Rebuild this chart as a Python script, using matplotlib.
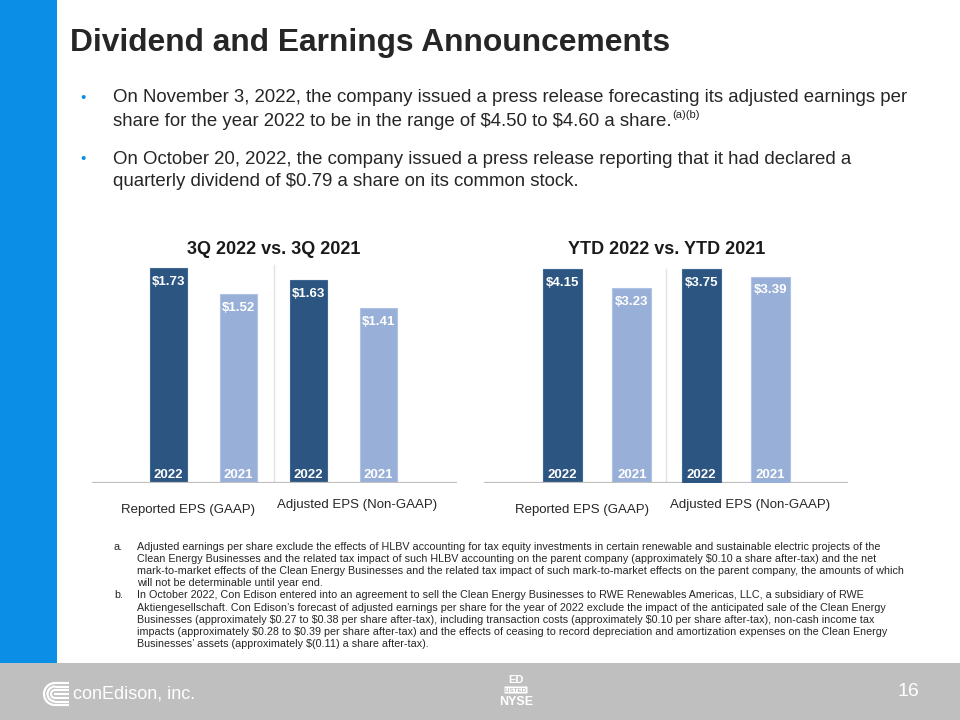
import matplotlib
matplotlib.use("Agg")
import matplotlib.pyplot as plt
from matplotlib.patches import Rectangle, Arc, FancyBboxPatch

plt.rcParams['font.family'] = ['Liberation Sans', 'DejaVu Sans']
plt.rcParams['text.parse_math'] = False

# data
categories = ["Reported EPS (GAAP)", "Adjusted EPS (Non-GAAP)"]
years = ["2022", "2021"]
q3_2022 = [1.73, 1.63]
q3_2021 = [1.52, 1.41]
ytd_2022 = [4.15, 3.75]
ytd_2021 = [3.23, 3.39]

title = "Dividend and Earnings Announcements"
bullets = [
    ["On November 3, 2022, the company issued a press release forecasting its adjusted earnings per",
     "share for the year 2022 to be in the range of $4.50 to $4.60 a share."],
    ["On October 20, 2022, the company issued a press release reporting that it had declared a",
     "quarterly dividend of $0.79 a share on its common stock."],
]
note_a = [
    "Adjusted earnings per share exclude the effects of HLBV accounting for tax equity investments in certain renewable and sustainable electric projects of the",
    "Clean Energy Businesses and the related tax impact of such HLBV accounting on the parent company (approximately $0.10 a share after-tax) and the net",
    "mark-to-market effects of the Clean Energy Businesses and the related tax impact of such mark-to-market effects on the parent company, the amounts of which",
    "will not be determinable until year end.",
]
note_b = [
    "In October 2022, Con Edison entered into an agreement to sell the Clean Energy Businesses to RWE Renewables Americas, LLC, a subsidiary of RWE",
    "Aktiengesellschaft. Con Edison\u2019s forecast of adjusted earnings per share for the year of 2022 exclude the impact of the anticipated sale of the Clean Energy",
    "Businesses (approximately $0.27 to $0.38 per share after-tax), including transaction costs (approximately $0.10 per share after-tax), non-cash income tax",
    "impacts (approximately $0.28 to $0.39 per share after-tax) and the effects of ceasing to record depreciation and amortization expenses on the Clean Energy",
    "Businesses\u2019 assets (approximately $(0.11) a share after-tax).",
]

DARK = "#2C5581"
LIGHT = "#98AFD8"
TEXT = "#262626"
W, H = 960, 720


def fx(x):
    return x / W


def fy(y):
    return 1 - y / H


fig = plt.figure(figsize=(9.6, 7.2), dpi=100)

# background layer in pixel coordinates
bg = fig.add_axes([0, 0, 1, 1], zorder=-5)
bg.set_xlim(0, W)
bg.set_ylim(H, 0)
bg.axis('off')
bg.add_patch(Rectangle((0, 0), 57, 663, color="#0B8FE6", lw=0))
bg.add_patch(Rectangle((0, 663), W, 57, color="#BFBFBF", lw=0))

# title and bullets
fig.text(fx(70), fy(43), title, fontsize=22.9, fontweight='bold', color=TEXT, va='center')
line_y = [[98, 121], [159, 182]]
lines_drawn = []
for b, ys in zip(bullets, line_y):
    fig.text(fx(83), fy(ys[0]), "\u2022", fontsize=11, color="#0B8FE6", ha='center', va='center')
    for line, y in zip(b, ys):
        lines_drawn.append(fig.text(fx(113), fy(y), line, fontsize=13.4, color=TEXT, va='center'))

fig.canvas.draw()
bb = lines_drawn[1].get_window_extent(fig.canvas.get_renderer())
fig.text(bb.x1 / W + 0.001, fy(115), "(a)(b)", fontsize=8, color=TEXT, va='center')


def draw_pair(ax, i, v22, v21, floor, width):
    x = [2 * i, 2 * i + 1]
    vals = [v22, v21]
    bars = ax.bar(x, [v - floor for v in vals], bottom=floor, width=width,
                  color=[DARK, LIGHT], edgecolor=["#3E6894", "#AFC2E3"], linewidth=0.8)
    for bar, v, yr in zip(bars, vals, years):
        cx = bar.get_x() + bar.get_width() / 2
        ax.annotate(f"${v:.2f}", (cx, v), xytext=(0, -10), textcoords='offset points',
                    ha='center', va='center', color='white', fontsize=9.5, fontweight='bold')
        ax.annotate(yr, (cx, floor), xytext=(0, 6), textcoords='offset points',
                    ha='center', va='center', color='white', fontsize=9.5, fontweight='bold')


def style(ax, xlim, ylim):
    ax.set_xlim(*xlim)
    ax.set_ylim(*ylim)
    for s in ax.spines.values():
        s.set_visible(False)
    ax.set_xticks([])
    ax.set_yticks([])
    ax.patch.set_alpha(0)


# chart 1: 3Q, zero based
ax1 = fig.add_axes([fx(92), fy(483), fx(457 - 92), (483 - 250) / H])
style(ax1, (-1.093, 4.121), (0, 1.875))
for i in range(2):
    draw_pair(ax1, i, q3_2022[i], q3_2021[i], 0, 0.53)
ax1.axhline(0, color="#BFBFBF", lw=1.6, zorder=3)
ax1.axvline(1.5, ymin=0, ymax=(483 - 265) / 233, color="#E3E3E3", lw=1)

# chart 2: YTD, each pair on its own scale
floor = -6.4
rect2 = [fx(484), fy(483), fx(848 - 484), (483 - 250) / H]
ax2a = fig.add_axes(rect2)
ax2b = fig.add_axes(rect2)
for k, ax in enumerate([ax2a, ax2b]):
    top = floor + (ytd_2022[k] - floor) * 233 / 214
    style(ax, (-1.131, 4.117), (floor, top))
    draw_pair(ax, k, ytd_2022[k], ytd_2021[k], floor, 0.56)
ax2a.axhline(floor, color="#BFBFBF", lw=1.6, zorder=3)
ax2a.axvline(1.5, ymin=0, ymax=(483 - 269) / 233, color="#E3E3E3", lw=1)

# chart titles and category labels
fig.text(fx(274), fy(249), "3Q 2022 vs. 3Q 2021", fontsize=13, fontweight='bold',
         color="#1A1A1A", ha='center', va='center')
fig.text(fx(667), fy(249), "YTD 2022 vs. YTD 2021", fontsize=13, fontweight='bold',
         color="#1A1A1A", ha='center', va='center')
for ax, xs in [(ax1, [0.28, 2.69]), (ax2a, [0.28, 2.71])]:
    for cat, xc, yp in zip(categories, xs, [510, 505]):
        ax.text(xc, -(yp - 483) / 233, cat, transform=ax.get_xaxis_transform(),
                ha='center', va='center', fontsize=9.5, color=TEXT)

# footnotes
y = 547
for tag, lines in [("a.", note_a), ("b.", note_b)]:
    fig.text(fx(114), fy(y), tag, fontsize=7.75, color=TEXT, va='center')
    for line in lines:
        fig.text(fx(137), fy(y), line, fontsize=7.75, color=TEXT, va='center')
        y += 12.1

# footer: logo, NYSE mark, page number
cx, cy = 55, 694
for r in [11, 7.5, 4]:
    bg.add_patch(Arc((cx, cy), 2 * r, 2 * r, theta1=90, theta2=270, color='white', lw=1.6))
    bg.plot([cx, 69], [cy - r, cy - r], color='white', lw=1.6, solid_capstyle='butt')
    bg.plot([cx, 69], [cy + r, cy + r], color='white', lw=1.6, solid_capstyle='butt')
bg.plot([cx - 1, 69], [cy, cy], color='white', lw=1.6, solid_capstyle='butt')
fig.text(fx(73), fy(694), "conEdison, inc.", fontsize=13, color='white', va='center')

fig.text(fx(516), fy(680), "ED", fontsize=8, fontweight='bold', color='white', ha='center', va='center')
bg.add_patch(FancyBboxPatch((505, 687), 22, 6, boxstyle="round,pad=0.5", color='white', lw=0))
fig.text(fx(516), fy(690.5), "LISTED", fontsize=4.5, fontweight='bold', color='#BFBFBF', ha='center', va='center')
fig.text(fx(516), fy(702), "NYSE", fontsize=9, fontweight='bold', color='white', ha='center', va='center')
fig.text(fx(908), fy(692), "16", fontsize=14, color='white', ha='center', va='center')

fig.savefig("out.png", dpi=100)
